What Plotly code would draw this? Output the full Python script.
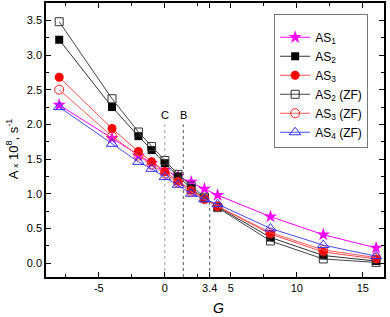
import plotly.graph_objects as go

G = [-8, -4, -2, -1, 0, 1, 2, 3, 4, 8, 12, 16]

as1 = [2.28, 1.80, 1.55, 1.44, 1.34, 1.25, 1.17, 1.07, 0.98, 0.67, 0.41, 0.22]
as2 = [3.22, 2.25, 1.83, 1.63, 1.44, 1.25, 1.08, 0.93, 0.81, 0.37, 0.11, 0.03]
as3 = [2.68, 1.94, 1.61, 1.46, 1.32, 1.18, 1.05, 0.93, 0.82, 0.42, 0.16, 0.06]
as2_zf = [3.48, 2.37, 1.89, 1.68, 1.48, 1.28, 1.11, 0.95, 0.80, 0.32, 0.06, 0.01]
as3_zf = [2.50, 1.83, 1.55, 1.42, 1.29, 1.16, 1.03, 0.92, 0.82, 0.44, 0.19, 0.08]
as4_zf = [2.25, 1.72, 1.46, 1.36, 1.24, 1.13, 1.00, 0.92, 0.85, 0.50, 0.26, 0.10]

names = ["AS<sub>1</sub>", "AS<sub>2</sub>", "AS<sub>3</sub>",
         "AS<sub>2</sub> (ZF)", "AS<sub>3</sub> (ZF)", "AS<sub>4</sub> (ZF)"]

x_tickvals = [-5, 0, 3.4, 5, 10, 15]
x_ticktext = ["-5", "0", "3.4", "5", "10", "15"]
y_tickvals = [0.0, 0.5, 1.0, 1.5, 2.0, 2.5, 3.0, 3.5]
y_ticktext = ["0.0", "0.5", "1.0", "1.5", "2.0", "2.5", "3.0", "3.5"]

ref_G = [0, 1.4, 3.4]
ref_top = [2.0, 2.0, 0.88]
ref_labels = ["C", "B", ""]
ref_colors = ["#a0a0a0", "#555555", "#555555"]

FONT = "Liberation Sans, Arial, sans-serif"

styles = [
    dict(line=dict(color="#ff00ff", width=1),
         marker=dict(symbol="star", size=10, color="#ff00ff")),
    dict(line=dict(color="#333333", width=1),
         marker=dict(symbol="square", size=8, color="#000000")),
    dict(line=dict(color="#ff4a4a", width=1),
         marker=dict(symbol="circle", size=9, color="#ff0000")),
    dict(line=dict(color="#444444", width=1),
         marker=dict(symbol="square-open", size=8, color="#333333", line=dict(width=1))),
    dict(line=dict(color="#ff5a5a", width=1),
         marker=dict(symbol="circle-open", size=9, color="#ff2020", line=dict(width=1))),
    dict(line=dict(color="#4a4aff", width=1),
         marker=dict(symbol="triangle-up-open", size=10, color="#3030ff", line=dict(width=1))),
]

fig = go.Figure()

# reference dotted lines
for g, top, lab, col in zip(ref_G, ref_top, ref_labels, ref_colors):
    fig.add_trace(go.Scatter(x=[g, g], y=[-0.2, top], mode="lines",
                             line=dict(color=col, width=1, dash="dot"),
                             showlegend=False, hoverinfo="skip"))
    if lab:
        fig.add_annotation(x=g, y=top, text=lab, showarrow=False, yanchor="bottom",
                           yshift=1, font=dict(family=FONT, size=11, color="#000"))

series = [as1, as2, as3, as2_zf, as3_zf, as4_zf]
for name, ys, st in zip(names, series, styles):
    fig.add_trace(go.Scatter(x=G, y=ys, mode="lines+markers", name=name, **st))

axis_common = dict(showline=True, linecolor="#000", linewidth=1.5, mirror="allticks",
                   ticks="inside", ticklen=5, tickwidth=1, tickcolor="#000",
                   showgrid=False, zeroline=False,
                   tickfont=dict(family=FONT, size=11, color="#000"))

fig.update_xaxes(range=[-9, 16.6], tickmode="array", tickvals=x_tickvals, ticktext=x_ticktext,
                 minor=dict(ticks="inside", ticklen=3, dtick=2.5, tick0=0, tickcolor="#000"),
                 **axis_common)
fig.update_yaxes(range=[-0.2, 3.75], tickmode="array", tickvals=y_tickvals, ticktext=y_ticktext,
                 minor=dict(ticks="inside", ticklen=3, dtick=0.25, tick0=0, tickcolor="#000"),
                 **axis_common)

fig.add_annotation(xref="paper", yref="paper", x=-0.1, y=0.467, textangle=-90,
                   xanchor="center", yanchor="middle",
                   text="A <span style='font-size:8px'>x</span> 10<sup>8</sup>, s<sup>-1</sup>",
                   showarrow=False, font=dict(family=FONT, size=13, color="#000"))
fig.add_annotation(xref="paper", yref="paper", x=0.509, y=-0.112,
                   xanchor="center", yanchor="middle",
                   text="<i>G</i>", showarrow=False,
                   font=dict(family=FONT, size=14, color="#000"))

fig.update_layout(
    width=390, height=317,
    margin=dict(l=46, r=6, t=1, b=40),
    plot_bgcolor="#fff", paper_bgcolor="#fff",
    legend=dict(x=0.675, y=0.96, xanchor="left", yanchor="top",
                bordercolor="#777", borderwidth=1, bgcolor="#fff",
                title=dict(text=" ", font=dict(size=6)),
                font=dict(family=FONT, size=12, color="#000"),
                itemwidth=30, tracegroupgap=0),
    showlegend=True,
)

fig.write_html("out.html", config={"displayModeBar": False},
               post_script="document.body.style.margin='0';document.body.style.overflow='hidden';")
